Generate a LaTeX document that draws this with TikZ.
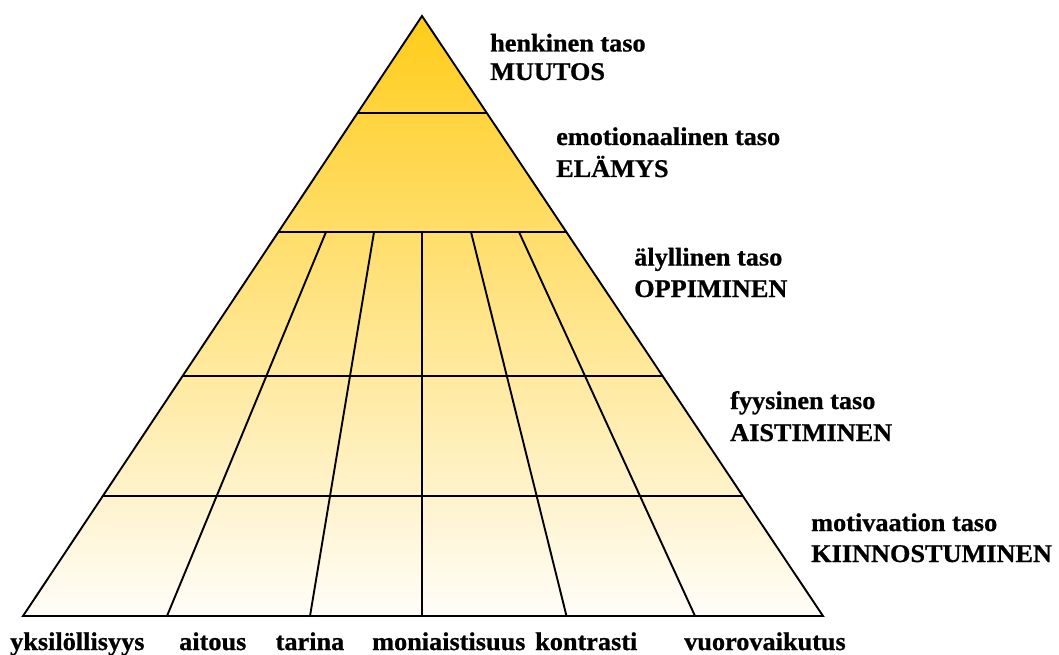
\documentclass[tikz,border=0pt]{standalone}
\usepackage{fontspec}
\setmainfont{Liberation Serif}[FakeStretch=1.03,FakeBold=0.8]
\usetikzlibrary{calc}
\definecolor{gtop}{RGB}{255,204,25}
\definecolor{gmid}{RGB}{255,236,190}
\definecolor{gbot}{RGB}{255,253,249}
\begin{document}
\begin{tikzpicture}[x=1pt,y=-1pt,
  lbl/.style={anchor=base west, inner sep=0pt, font=\fontsize{25.5}{30}\selectfont\bfseries},
  edge/.style={line width=1.9pt, draw=black}]
\useasboundingbox (0,0) rectangle (1059,655);
\coordinate (A) at (422,16);
\coordinate (BL) at (23,616);
\coordinate (BR) at (823,616);
\shade[top color=gtop, middle color=gmid, bottom color=gbot] (A) -- (BL) -- (BR) -- cycle;
% level lines
\foreach \f [count=\i] in {0.1617,0.36,0.6,0.8}{
  \coordinate (L\i) at ($(A)!\f!(BL)$);
  \coordinate (R\i) at ($(A)!\f!(BR)$);
  \draw[edge] (L\i) -- (R\i);
}
% dividers
\coordinate (t1) at (326,232); \coordinate (b1) at (167,616);
\coordinate (t2) at (374,232); \coordinate (b2) at (310,616);
\coordinate (t3) at (422.3,232); \coordinate (b3) at (422.3,616);
\coordinate (t4) at (471,232); \coordinate (b4) at (566.5,616);
\coordinate (t5) at (519,232); \coordinate (b5) at (695,616);
\foreach \i in {1,...,5}{\draw[edge] (t\i) -- (b\i);}
\draw[edge] (A) -- (BL) -- (BR) -- cycle;
% right labels
\node[lbl] (h1) at (490,51.5) {henkinen taso};
\node[lbl] (h2) at (490,80) {MUUTOS};
\node[lbl] (e1) at (556,145) {emotionaalinen taso};
\node[lbl] (e2) at (556,177) {ELÄMYS};
\node[lbl] (a1) at (634,265.5) {älyllinen taso};
\node[lbl] (a2) at (634,297) {OPPIMINEN};
\node[lbl] (f1) at (730,409) {fyysinen taso};
\node[lbl] (f2) at (730,441) {AISTIMINEN};
\node[lbl] (m1) at (811,531) {motivaation taso};
\node[lbl] (m2) at (811,562) {KIINNOSTUMINEN};
% bottom labels
\node[lbl] (c1) at (10,650) {yksilöllisyys};
\node[lbl] (c2) at (179,650) {aitous};
\node[lbl] (c3) at (275.5,650) {tarina};
\node[lbl] (c4) at (372,650) {moniaistisuus};
\node[lbl] (c5) at (535,650) {kontrasti};
\node[lbl] (c6) at (684,650) {vuorovaikutus};
\end{tikzpicture}
\end{document}
